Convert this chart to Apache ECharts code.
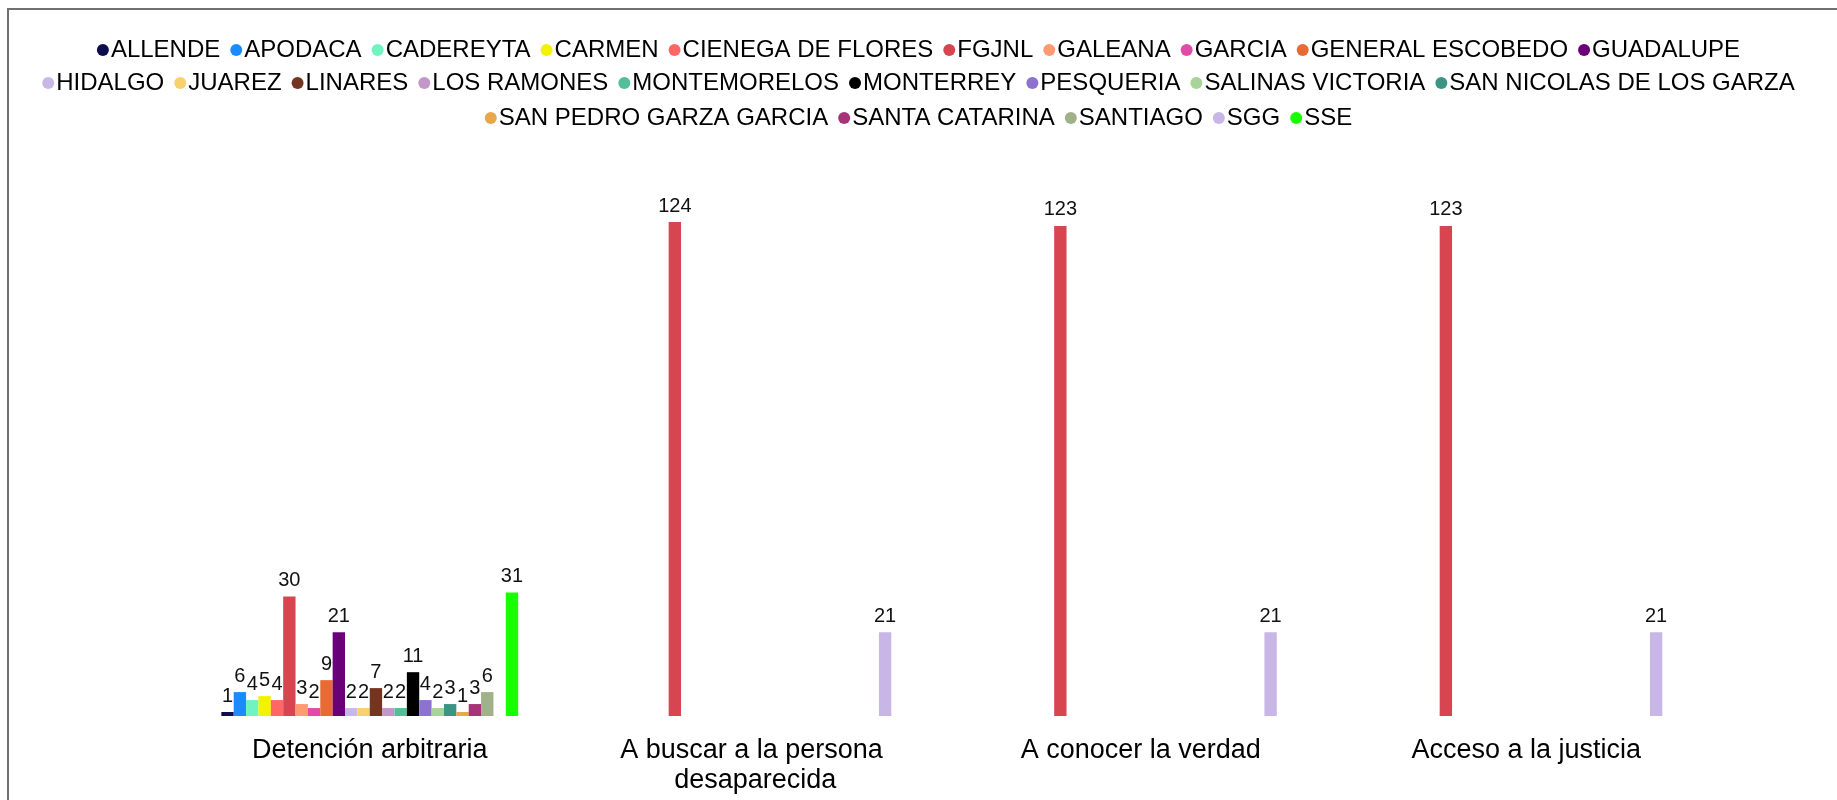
<!DOCTYPE html>
<html>
<head>
<meta charset="utf-8">
<script src="https://cdn.jsdelivr.net/npm/echarts@6/dist/echarts.min.js"></script>
<style>
html,body{margin:0;padding:0;background:#fff;}
#chart{width:1837px;height:800px;}
</style>
</head>
<body>
<div id="chart"></div>
<script>
const categories = ['Detención arbitraria', 'A buscar a la persona desaparecida', 'A conocer la verdad', 'Acceso a la justicia'];

const seriesNames = ['ALLENDE','APODACA','CADEREYTA','CARMEN','CIENEGA DE FLORES','FGJNL','GALEANA','GARCIA','GENERAL ESCOBEDO','GUADALUPE','HIDALGO','JUAREZ','LINARES','LOS RAMONES','MONTEMORELOS','MONTERREY','PESQUERIA','SALINAS VICTORIA','SAN NICOLAS DE LOS GARZA','SAN PEDRO GARZA GARCIA','SANTA CATARINA','SANTIAGO','SGG','SSE'];

const ALLENDE = [1, null, null, null];
const APODACA = [6, null, null, null];
const CADEREYTA = [4, null, null, null];
const CARMEN = [5, null, null, null];
const CIENEGA_DE_FLORES = [4, null, null, null];
const FGJNL = [30, 124, 123, 123];
const GALEANA = [3, null, null, null];
const GARCIA = [2, null, null, null];
const GENERAL_ESCOBEDO = [9, null, null, null];
const GUADALUPE = [21, null, null, null];
const HIDALGO = [2, null, null, null];
const JUAREZ = [2, null, null, null];
const LINARES = [7, null, null, null];
const LOS_RAMONES = [2, null, null, null];
const MONTEMORELOS = [2, null, null, null];
const MONTERREY = [11, null, null, null];
const PESQUERIA = [4, null, null, null];
const SALINAS_VICTORIA = [2, null, null, null];
const SAN_NICOLAS_DE_LOS_GARZA = [3, null, null, null];
const SAN_PEDRO_GARZA_GARCIA = [1, null, null, null];
const SANTA_CATARINA = [3, null, null, null];
const SANTIAGO = [6, null, null, null];
const SGG = [null, 21, 21, 21];
const SSE = [31, null, null, null];

const seriesValues = [ALLENDE, APODACA, CADEREYTA, CARMEN, CIENEGA_DE_FLORES, FGJNL, GALEANA, GARCIA, GENERAL_ESCOBEDO, GUADALUPE, HIDALGO, JUAREZ, LINARES, LOS_RAMONES, MONTEMORELOS, MONTERREY, PESQUERIA, SALINAS_VICTORIA, SAN_NICOLAS_DE_LOS_GARZA, SAN_PEDRO_GARZA_GARCIA, SANTA_CATARINA, SANTIAGO, SGG, SSE];

const colors = ['#0c0c4e','#1a8cff','#6ff3c0','#f3f300','#ff6666','#d64550','#ff9a72','#e24aa8','#e86b35','#6a0078','#c8b8e8','#f8d070','#733520','#c497c9','#52bf98','#000000','#8e72d0','#a8d49a','#3a9585','#e8a84a','#a83278','#a0b088','#c8b6e6','#19ff00'];

const legendRows = [seriesNames.slice(0, 10), seriesNames.slice(10, 19), seriesNames.slice(19)];
const legendTops = [33, 66, 101];

const font = 'Liberation Sans, Arial, sans-serif';
const chart = echarts.init(document.getElementById('chart'));

chart.setOption({
  backgroundColor: '#ffffff',
  animation: false,
  color: colors,
  graphic: [{
    type: 'rect', silent: true,
    shape: { x: 8, y: 9, width: 2000, height: 1000 },
    style: { fill: 'none', stroke: '#707070', lineWidth: 2 }
  }],
  legend: legendRows.map((row, i) => ({
    data: row,
    top: legendTops[i],
    left: 'center',
    icon: 'circle',
    itemWidth: 12,
    itemHeight: 12,
    itemGap: 10,
    textStyle: { fontSize: 24, lineHeight: 24, color: '#000', fontFamily: font, padding: [0, 0, 0, -3] }
  })),
  grid: { left: 177, right: 118, top: 222, bottom: 84, containLabel: false },
  xAxis: {
    type: 'category',
    data: categories,
    axisLine: { show: false },
    axisTick: { show: false },
    axisLabel: { fontSize: 27, color: '#000', fontFamily: font, margin: 20, lineHeight: 30, width: 300, overflow: 'break', interval: 0 }
  },
  yAxis: { type: 'value', min: 0, max: 124, show: false, splitLine: { show: false } },
  series: seriesNames.map((name, i) => ({
    name: name,
    type: 'bar',
    data: seriesValues[i],
    barGap: '0%',
    barCategoryGap: '23%',
    itemStyle: { color: colors[i] },
    label: { show: true, position: 'top', distance: 6, fontSize: 20, color: '#111', fontFamily: font }
  }))
});
</script>
</body>
</html>
